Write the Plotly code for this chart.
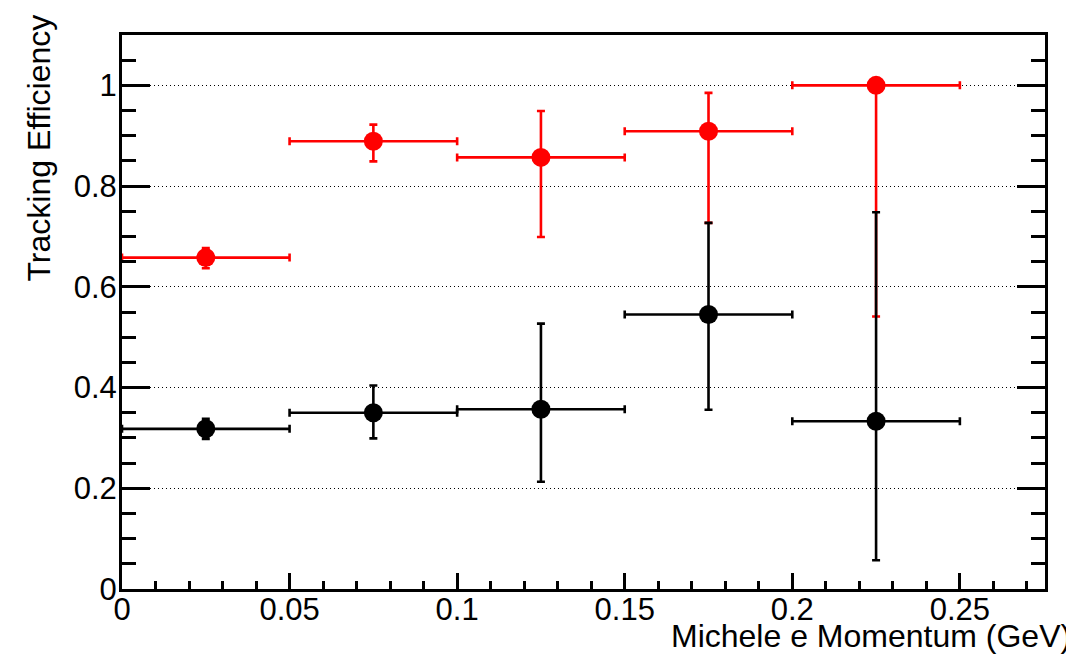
import plotly.graph_objects as go

# Data
bin_centers = [0.025, 0.075, 0.125, 0.175, 0.225]
bin_half_widths = [0.025, 0.025, 0.025, 0.025, 0.025]

red_eff = [0.658, 0.889, 0.857, 0.909, 1.0]
red_err_up = [0.019, 0.033, 0.092, 0.076, 0.0]
red_err_dn = [0.021, 0.040, 0.158, 0.182, 0.459]

black_eff = [0.318, 0.350, 0.357, 0.545, 0.333]
black_err_up = [0.020, 0.054, 0.170, 0.182, 0.415]
black_err_dn = [0.020, 0.051, 0.144, 0.189, 0.276]

x_title = "Michele e Momentum (GeV)"
y_title = "Tracking Efficiency"

FONT = "Liberation Sans, Arial, Helvetica, sans-serif"


def series(y, up, dn, color):
    return go.Scatter(
        x=bin_centers,
        y=y,
        mode="markers",
        marker=dict(symbol="circle", size=19, color=color, line=dict(width=0)),
        error_x=dict(type="data", array=bin_half_widths, symmetric=True,
                     color=color, thickness=2.6, width=4),
        error_y=dict(type="data", array=up, arrayminus=dn, symmetric=False,
                     color=color, thickness=2.6, width=4),
        showlegend=False,
        hoverinfo="x+y",
    )


fig = go.Figure()
fig.add_trace(series(red_eff, red_err_up, red_err_dn, "#ff0000"))
fig.add_trace(series(black_eff, black_err_up, black_err_dn, "#000000"))

# the page body has an 8px default margin; size the figure to fill the window
fig.update_layout(
    width=1066,
    height=652,
    margin=dict(l=114, r=29, t=27, b=71),
    paper_bgcolor="white",
    plot_bgcolor="white",
    font=dict(family=FONT, size=31, color="black"),
    xaxis=dict(
        range=[0, 0.2754],
        tickmode="array",
        tickvals=[0, 0.05, 0.1, 0.15, 0.2, 0.25],
        ticktext=["0", "0.05", "0.1", "0.15", "0.2", "0.25"],
        ticks="inside",
        ticklen=16,
        tickwidth=2.5,
        tickcolor="black",
        showline=True,
        linecolor="black",
        linewidth=3,
        mirror=True,
        showgrid=False,
        zeroline=False,
        tickfont=dict(size=31),
        ticklabelstandoff=-9,
        minor=dict(ticks="inside", ticklen=8, dtick=0.01, tick0=0,
                   tickwidth=2.5, tickcolor="black", showgrid=False),
    ),
    yaxis=dict(
        range=[0, 1.1],
        tickmode="array",
        tickvals=[0, 0.2, 0.4, 0.6, 0.8, 1.0],
        ticktext=["0", "0.2", "0.4", "0.6", "0.8", "1"],
        ticks="inside",
        ticklen=28,
        tickwidth=2.5,
        tickcolor="black",
        showline=True,
        linecolor="black",
        linewidth=3,
        mirror="ticks",
        showgrid=True,
        gridcolor="black",
        gridwidth=1,
        griddash="1px,3px",
        zeroline=False,
        tickfont=dict(size=31),
        ticklabelstandoff=-4,
        minor=dict(ticks="inside", ticklen=14, dtick=0.05, tick0=0,
                   tickwidth=2.5, tickcolor="black", showgrid=False),
    ),
    annotations=[
        dict(text=x_title, xref="paper", yref="paper", x=1, y=0,
             xanchor="right", yanchor="top", xshift=28, yshift=-27,
             showarrow=False, font=dict(size=32, family=FONT)),
        dict(text=y_title, xref="paper", yref="paper", x=0, y=1,
             xanchor="center", yanchor="top", xshift=-84, yshift=22,
             textangle=-90, showarrow=False, font=dict(size=32, family=FONT)),
    ],
)

fig.write_html("out.html")
